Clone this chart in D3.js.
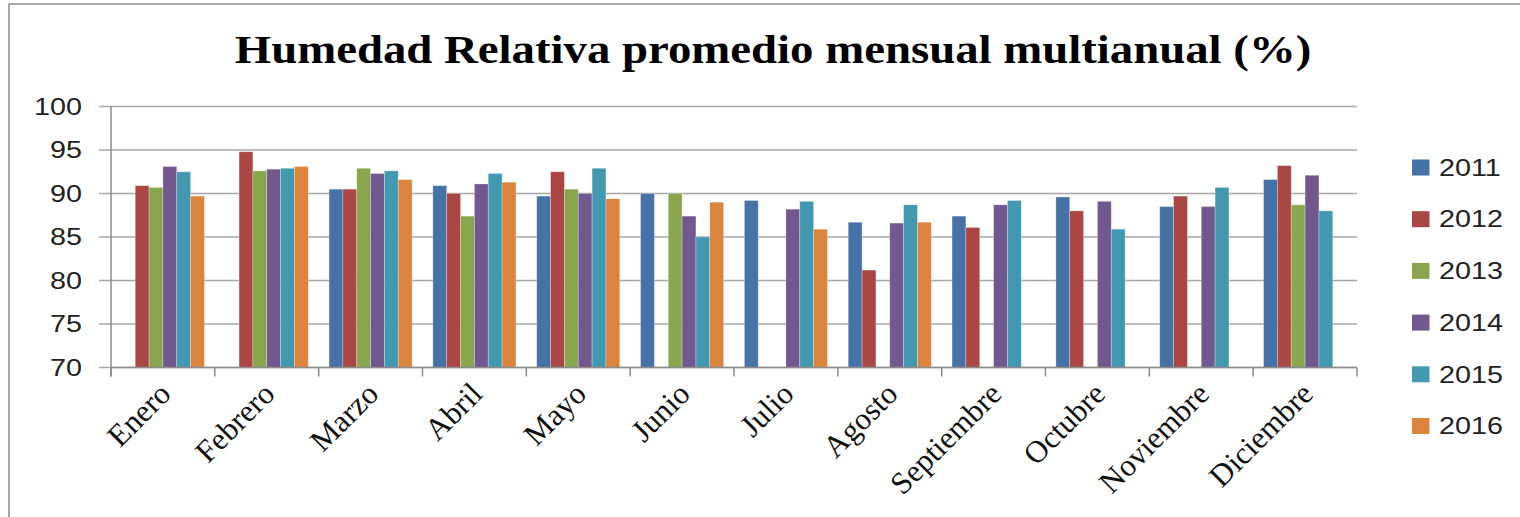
<!DOCTYPE html>
<html>
<head>
<meta charset="utf-8">
<script src="https://cdn.jsdelivr.net/npm/d3@7"></script>
<style>
  body { margin: 0; background: #fff; }
</style>
</head>
<body>
<script>
const months = ['Enero', 'Febrero', 'Marzo', 'Abril', 'Mayo', 'Junio', 'Julio', 'Agosto', 'Septiembre', 'Octubre', 'Noviembre', 'Diciembre']
const years = ['2011', '2012', '2013', '2014', '2015', '2016']
const yearColors = ['#4572A7', '#AA4643', '#89A54E', '#71588F', '#4198AF', '#DB843D']
const yTicks = [70, 75, 80, 85, 90, 95, 100]

// null = no data for that month
const v2011 = [null, null, 90.5, 90.9, 89.7, 90.0, 89.2, 86.7, 87.4, 89.6, 88.5, 91.6]
const v2012 = [90.9, 94.8, 90.5, 90.0, 92.5, null, null, 81.2, 86.1, 88.0, 89.7, 93.2]
const v2013 = [90.7, 92.6, 92.9, 87.4, 90.5, 90.0, null, null, null, null, null, 88.7]
const v2014 = [93.1, 92.8, 92.3, 91.1, 90.0, 87.4, 88.2, 86.6, 88.7, 89.1, 88.5, 92.1]
const v2015 = [92.5, 92.9, 92.6, 92.3, 92.9, 85.0, 89.1, 88.7, 89.2, 85.9, 90.7, 88.0]
const v2016 = [89.7, 93.1, 91.6, 91.3, 89.4, 89.0, 85.9, 86.7, null, null, null, null]
const series = [v2011, v2012, v2013, v2014, v2015, v2016]

const width = 1520
const height = 517
const sx = 1.25 // the source picture is stretched sideways

const svg = d3.select('body').append('svg')
  .attr('width', width)
  .attr('height', height)

// chart frame
svg.append('rect')
  .attr('x', 9).attr('y', 4)
  .attr('width', width + 20).attr('height', height + 20)
  .attr('fill', 'none')
  .attr('stroke', '#8c8c8c')
  .attr('stroke-width', 1.5)

svg.append('text')
  .attr('transform', 'translate(773, 63) scale(1.17,1)')
  .attr('text-anchor', 'middle')
  .style('font-family', '"Liberation Serif", "Times New Roman", serif')
  .style('font-weight', 'bold')
  .style('font-size', '40px')
  .text('Humedad Relativa promedio mensual multianual (%)')

const x0 = d3.scaleBand().domain(months).range([111, 1357]).paddingInner(0.2).paddingOuter(0.1)
const x1 = d3.scaleBand().domain(years).range([0, x0.bandwidth()])
const y = d3.scaleLinear().domain([70, 100]).range([367.5, 106.5])
const color = d3.scaleOrdinal().domain(years).range(yearColors)

// gridlines
svg.append('g')
  .selectAll('line')
  .data(yTicks)
  .join('line')
  .attr('x1', 99).attr('x2', 1357)
  .attr('y1', (d) => y(d)).attr('y2', (d) => y(d))
  .attr('stroke', '#a6a6a6')
  .attr('stroke-width', 1.5)

// y labels
svg.append('g')
  .selectAll('text')
  .data(yTicks)
  .join('text')
  .attr('transform', (d) => `translate(82, ${y(d)}) scale(${sx},1)`)
  .attr('text-anchor', 'end')
  .attr('dy', '0.36em')
  .style('font-family', '"Liberation Sans", Arial, sans-serif')
  .style('font-size', '23px')
  .attr('fill', '#222')
  .text((d) => d)

// bars
const flat = []
months.forEach((m, i) => {
  years.forEach((yr, j) => {
    if (series[j][i] != null) flat.push({ month: m, year: yr, value: series[j][i] })
  })
})

svg.append('g')
  .selectAll('rect')
  .data(flat)
  .join('rect')
  .attr('x', (d) => x0(d.month) + x1(d.year))
  .attr('y', (d) => y(d.value))
  .attr('width', x1.bandwidth())
  .attr('height', (d) => y(70) - y(d.value))
  .attr('fill', (d) => color(d.year))
  .attr('stroke', 'rgba(255,255,255,0.35)')
  .attr('stroke-width', 0.8)

// axes lines
svg.append('line')
  .attr('x1', 111).attr('x2', 111)
  .attr('y1', y(100)).attr('y2', y(70) + 9)
  .attr('stroke', '#8c8c8c').attr('stroke-width', 1.5)
svg.append('line')
  .attr('x1', 111).attr('x2', 1357)
  .attr('y1', y(70)).attr('y2', y(70))
  .attr('stroke', '#8c8c8c').attr('stroke-width', 1.5)

const step = x0.step()
svg.append('g')
  .selectAll('line')
  .data(d3.range(months.length + 1))
  .join('line')
  .attr('x1', (i) => 111 + i * step).attr('x2', (i) => 111 + i * step)
  .attr('y1', y(70)).attr('y2', y(70) + 9)
  .attr('stroke', '#8c8c8c').attr('stroke-width', 1.5)

// month labels
svg.append('g')
  .selectAll('text')
  .data(months)
  .join('text')
  .attr('transform', (d) => `translate(${x0(d) + x0.bandwidth() / 2 + 2}, 388) rotate(-45) scale(1.04,1.04)`)
  .attr('text-anchor', 'end')
  .attr('dy', '0.35em')
  .style('font-family', '"Liberation Serif", "Times New Roman", serif')
  .style('font-size', '30px')
  .attr('fill', '#111')
  .text((d) => d)

// legend
const legend = svg.append('g')
  .selectAll('g')
  .data(years)
  .join('g')
  .attr('transform', (d, i) => `translate(1412, ${167.5 + i * 51.7})`)

legend.append('rect')
  .attr('x', 0).attr('y', -8)
  .attr('width', 17.5).attr('height', 16)
  .attr('fill', (d) => color(d))

legend.append('text')
  .attr('transform', `translate(27, 0) scale(${sx},1)`)
  .attr('dy', '0.36em')
  .style('font-family', '"Liberation Sans", Arial, sans-serif')
  .style('font-size', '23px')
  .attr('fill', '#222')
  .text((d) => d)
</script>
</body>
</html>
